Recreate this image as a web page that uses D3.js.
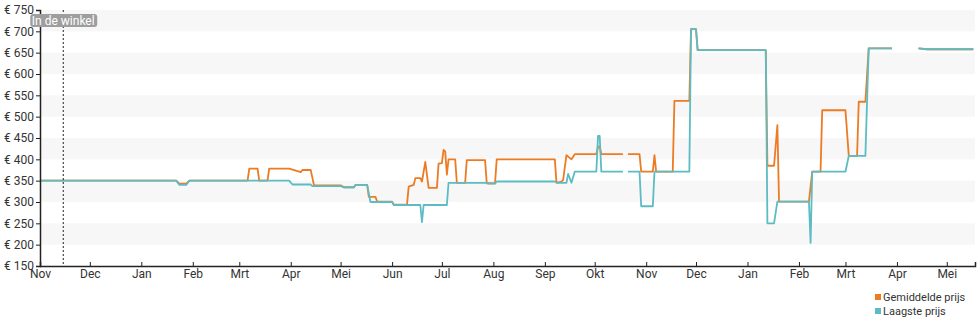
<!DOCTYPE html>
<html>
<head>
<meta charset="utf-8">
<script src="https://cdn.jsdelivr.net/npm/d3@7"></script>
<style>
  html, body { margin: 0; padding: 0; background: #fff; }
  svg { display: block; font-family: Roboto, "Noto Sans", sans-serif; }
</style>
</head>
<body>
<svg id="chart" width="980" height="325"></svg>
<script>
// ---- Data ----
const monthLabels = ["Jan","Feb","Mrt","Apr","Mei","Jun","Jul","Aug","Sep","Okt","Nov","Dec"];
const yTicks = [150,200,250,300,350,400,450,500,550,600,650,700,750];
const seriesNames = ["Gemiddelde prijs","Laagste prijs"];
const storeDate = "2021-11-15";
const storeLabel = "In de winkel";

const avgDates = ["2021-11-01","2022-01-22","2022-01-24","2022-01-28","2022-01-30","2022-03-06","2022-03-07","2022-03-12","2022-03-13","2022-03-18","2022-03-19","2022-03-31","2022-04-07","2022-04-08","2022-04-13","2022-04-15","2022-05-01","2022-05-03","2022-05-09","2022-05-10","2022-05-17","2022-05-18","2022-05-22","2022-05-23","2022-06-01","2022-06-02","2022-06-10","2022-06-11","2022-06-14","2022-06-15","2022-06-18","2022-06-19","2022-06-21","2022-06-23","2022-06-28","2022-06-29","2022-07-01","2022-07-02","2022-07-03","2022-07-04","2022-07-05","2022-07-09","2022-07-10","2022-07-15","2022-07-16","2022-07-27","2022-07-28","2022-08-02","2022-08-03","2022-09-07","2022-09-08","2022-09-11","2022-09-12","2022-09-14","2022-09-17","2022-09-19","2022-10-02","2022-10-03","2022-10-04","2022-10-05","2022-10-18","2022-10-19","2022-10-21","2022-10-28","2022-10-29","2022-11-05","2022-11-06","2022-11-07","2022-11-17","2022-11-18","2022-11-27","2022-11-28","2022-12-01","2022-12-02","2023-01-12","2023-01-13","2023-01-17","2023-01-19","2023-01-20","2023-02-07","2023-02-09","2023-02-14","2023-02-15","2023-03-01","2023-03-03","2023-03-08","2023-03-09","2023-03-13","2023-03-15","2023-03-29","2023-03-30","2023-04-14","2023-04-19","2023-05-17"];
const avgPrices = [350,350,343,343,350,350,378,378,350,350,378,378,370,375,375,339,339,335,335,340,340,312,312,301,301,294,294,336,340,356,356,348,394,333,333,390,391,422,418,364,400,400,345,345,398,398,344,344,400,400,345,348,352,410,400,412,412,430,430,412,412,null,412,412,371,371,410,371,371,537,537,705,705,656,656,385,385,480,301,301,371,371,515,515,408,408,535,535,660,660,null,660,658,658];

const lowDates = ["2021-11-01","2022-01-22","2022-01-24","2022-01-28","2022-01-30","2022-03-31","2022-04-02","2022-04-13","2022-04-14","2022-05-01","2022-05-03","2022-05-09","2022-05-10","2022-05-17","2022-05-19","2022-06-01","2022-06-02","2022-06-18","2022-06-19","2022-06-20","2022-07-04","2022-07-05","2022-07-28","2022-07-29","2022-08-02","2022-08-03","2022-09-07","2022-09-09","2022-09-14","2022-09-15","2022-09-17","2022-09-19","2022-10-02","2022-10-03","2022-10-04","2022-10-05","2022-10-18","2022-10-19","2022-10-21","2022-10-28","2022-10-29","2022-11-05","2022-11-06","2022-11-27","2022-11-28","2022-12-01","2022-12-02","2023-01-12","2023-01-13","2023-01-17","2023-01-19","2023-02-07","2023-02-08","2023-02-09","2023-03-01","2023-03-03","2023-03-13","2023-03-15","2023-03-29","2023-03-30","2023-04-14","2023-04-19","2023-05-17"];
const lowPrices = [350,350,340,340,350,350,341,341,337,337,334,334,340,340,300,300,293,293,253,293,293,345,345,343,343,348,348,345,345,366,345,371,371,455,455,371,371,null,371,371,290,290,371,371,705,705,656,656,250,250,301,301,204,371,371,408,408,660,660,null,660,658,658];

const colors = ["#ec7b23", "#5cbcc4"];

// ---- Chart ----
const parse = d3.timeParse("%Y-%m-%d");
const svg = d3.select("#chart");
const plotLeft = 40, plotRight = 975, plotTop = 10, plotBottom = 266;

const x = d3.scaleTime()
  .domain([parse("2021-11-01"), parse("2023-05-18")])
  .range([plotLeft, plotRight]);
const y = d3.scaleLinear().domain([150, 750]).range([plotBottom, plotTop]);

// background bands
const bandStarts = yTicks.filter((v, i) => i < yTicks.length - 1 && (v / 50) % 2 === 0);
svg.append("g").selectAll("rect").data(bandStarts).join("rect")
  .attr("x", plotLeft).attr("width", plotRight - plotLeft)
  .attr("y", d => y(d + 50)).attr("height", d => y(d) - y(d + 50))
  .attr("fill", "#f7f7f7");

// lines
function makeSeries(dates, prices) {
  return dates.map((d, i) => ({ date: parse(d), value: prices[i] }));
}
const line = d3.line()
  .defined(d => d.value !== null)
  .x(d => x(d.date)).y(d => y(d.value));

const series = [makeSeries(avgDates, avgPrices), makeSeries(lowDates, lowPrices)];
svg.append("g").selectAll("path").data(series).join("path")
  .attr("d", line)
  .attr("fill", "none")
  .attr("stroke", (d, i) => colors[i])
  .attr("stroke-width", 1.8)
  .attr("stroke-linejoin", "round");

// store line
const sx = x(parse(storeDate));
svg.append("line")
  .attr("x1", sx).attr("x2", sx).attr("y1", plotTop).attr("y2", plotBottom)
  .attr("stroke", "#222").attr("stroke-width", 1).attr("stroke-dasharray", "2,2");

// axes
const yAxis = d3.axisLeft(y).tickValues(yTicks).tickSize(4).tickPadding(2)
  .tickFormat(d => "€ " + d);
const gy = svg.append("g").attr("transform", `translate(${plotLeft},0)`).call(yAxis);
gy.select(".domain").attr("stroke", "#222").attr("stroke-width", 1.5);
gy.selectAll(".tick line").attr("stroke", "#222");
gy.selectAll("text").attr("font-size", 12).attr("fill", "#333").attr("font-family", "Roboto");

const xAxis = d3.axisBottom(x).ticks(d3.timeMonth.every(1)).tickSize(-4).tickPadding(3)
  .tickFormat(d => monthLabels[d.getMonth()]);
const gx = svg.append("g").attr("transform", `translate(0,${plotBottom})`).call(xAxis);
gx.select(".domain").attr("stroke", "#222").attr("stroke-width", 1.5);
gx.selectAll(".tick line").attr("stroke", "#222");
gx.selectAll("text").attr("font-size", 12).attr("fill", "#333").attr("font-family", "Roboto");

// store label
const lg = svg.append("g");
lg.append("rect").attr("x", sx - 33).attr("y", 14).attr("width", 67).attr("height", 13)
  .attr("rx", 3).attr("fill", "#9e9e9e");
lg.append("text").attr("x", sx).attr("y", 25).attr("text-anchor", "middle")
  .attr("font-size", 12).attr("fill", "#fff").text(storeLabel);

// legend
const leg = svg.append("g").attr("transform", "translate(875,294)");
seriesNames.forEach((name, i) => {
  leg.append("rect").attr("x", 0).attr("y", i * 14).attr("width", 6).attr("height", 6).attr("fill", colors[i]);
  leg.append("text").attr("x", 8).attr("y", i * 14 + 7).attr("font-size", 11).attr("fill", "#333").text(name);
});
</script>
</body>
</html>
